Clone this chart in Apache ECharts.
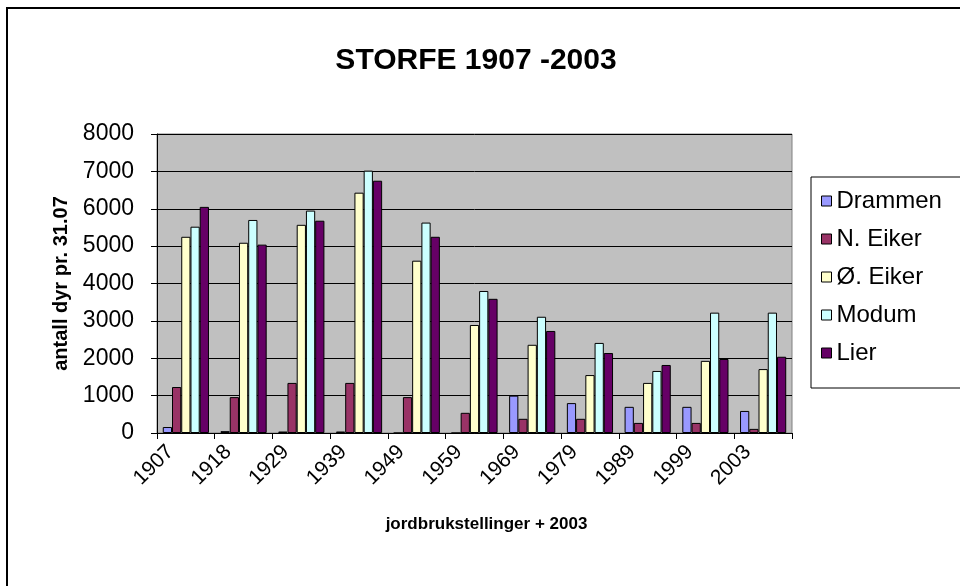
<!DOCTYPE html>
<html>
<head>
<meta charset="utf-8">
<script src="https://cdn.jsdelivr.net/npm/echarts@6/dist/echarts.min.js"></script>
<style>
    html, body { margin: 0; padding: 0; background: #fff; }
    #chart { width: 960px; height: 586px; }
</style>
</head>
<body>
<div id="chart"></div>
<script>
// år (jordbrukstellinger)
const years = ['1907', '1918', '1929', '1939', '1949', '1959', '1969', '1979', '1989', '1999', '2003'];
const yTicks = [0, 1000, 2000, 3000, 4000, 5000, 6000, 7000, 8000];

const drammen = [160, 50, 40, 40, 0, 0, 1000, 800, 700, 700, 590];
const nEiker = [1230, 960, 1340, 1340, 960, 540, 380, 380, 270, 270, 110];
const oEiker = [5250, 5090, 5570, 6430, 4610, 2890, 2360, 1550, 1340, 1930, 1710];
const modum = [5520, 5700, 5950, 7020, 5630, 3800, 3110, 2410, 1660, 3220, 3220];
const lier = [6050, 5040, 5680, 6750, 5250, 3590, 2730, 2140, 1820, 1980, 2040];

const seriesNames = ['Drammen', 'N. Eiker', 'Ø. Eiker', 'Modum', 'Lier'];
const seriesData = [drammen, nEiker, oEiker, modum, lier];
const colors = ['#9999FF', '#993366', '#FFFFCC', '#CCFFFF', '#660066'];

const font = 'Liberation Sans, Arial, sans-serif';

let myChart = echarts.init(document.getElementById('chart'), null, {renderer: 'canvas'});

let option = {
    backgroundColor: '#fff',
    animation: false,
    textStyle: {fontFamily: font, color: '#000'},
    title: {
        text: 'STORFE 1907 -2003',
        left: 471,
        textAlign: 'center',
        top: 41,
        textStyle: {fontFamily: font, fontSize: 30, fontWeight: 'bold', color: '#000'}
    },
    color: colors,
    legend: {
        orient: 'vertical',
        left: 811,
        top: 177,
        padding: [12, 40, 23, 10],
        itemGap: 14,
        itemWidth: 10,
        itemHeight: 10,
        borderColor: '#000',
        borderWidth: 1,
        icon: 'rect',
        itemStyle: {borderColor: '#000', borderWidth: 1},
        textStyle: {fontFamily: font, fontSize: 24, color: '#000', padding: [0, 0, 0, 0]},
        data: seriesNames
    },
    grid: {
        left: 157,
        right: 168,
        top: 134,
        bottom: 153,
        show: true,
        backgroundColor: '#C0C0C0',
        borderColor: '#808080',
        borderWidth: 1
    },
    xAxis: {
        type: 'category',
        data: years,
        name: 'jordbrukstellinger + 2003',
        nameLocation: 'middle',
        nameGap: 83,
        nameTextStyle: {fontFamily: font, fontSize: 17, fontWeight: 'bold', color: '#000', padding: [0, 0, 0, 24]},
        axisLine: {lineStyle: {color: '#000', width: 1}},
        axisTick: {show: true, length: 6, lineStyle: {color: '#000'}},
        axisLabel: {
            rotate: 45,
            interval: 0,
            margin: 0,
            padding: [0, 22, 0, 0],
            fontFamily: font,
            fontSize: 21,
            color: '#000'
        }
    },
    yAxis: {
        type: 'value',
        min: 0,
        max: 8000,
        interval: 1000,
        name: 'antall dyr pr. 31.07',
        nameLocation: 'middle',
        nameRotate: 90,
        nameGap: 86,
        nameTextStyle: {fontFamily: font, fontSize: 20, fontWeight: 'bold', color: '#000'},
        axisLine: {show: true, lineStyle: {color: '#000', width: 1}},
        axisTick: {show: true, length: 6, lineStyle: {color: '#000'}},
        axisLabel: {
            margin: 23,
            fontFamily: font,
            fontSize: 23,
            color: '#000',
            formatter: function (v) {
                return yTicks.indexOf(v) >= 0 ? String(v) : '';
            }
        },
        splitLine: {show: true, lineStyle: {color: '#000', width: 1}}
    },
    series: seriesNames.map(function (name, i) {
        return {
            name: name,
            type: 'bar',
            data: seriesData[i],
            barGap: 0,
            barCategoryGap: '20%',
            itemStyle: {color: colors[i], borderColor: '#000', borderWidth: 1}
        };
    }),
    graphic: [
        {
            type: 'rect',
            shape: {x: 7, y: 8, width: 980, height: 620},
            style: {fill: 'none', stroke: '#000', lineWidth: 2},
            silent: true,
            z: 100
        }
    ]
};

if (option && typeof option === "object") {
    myChart.setOption(option, true);
}
</script>
</body>
</html>
